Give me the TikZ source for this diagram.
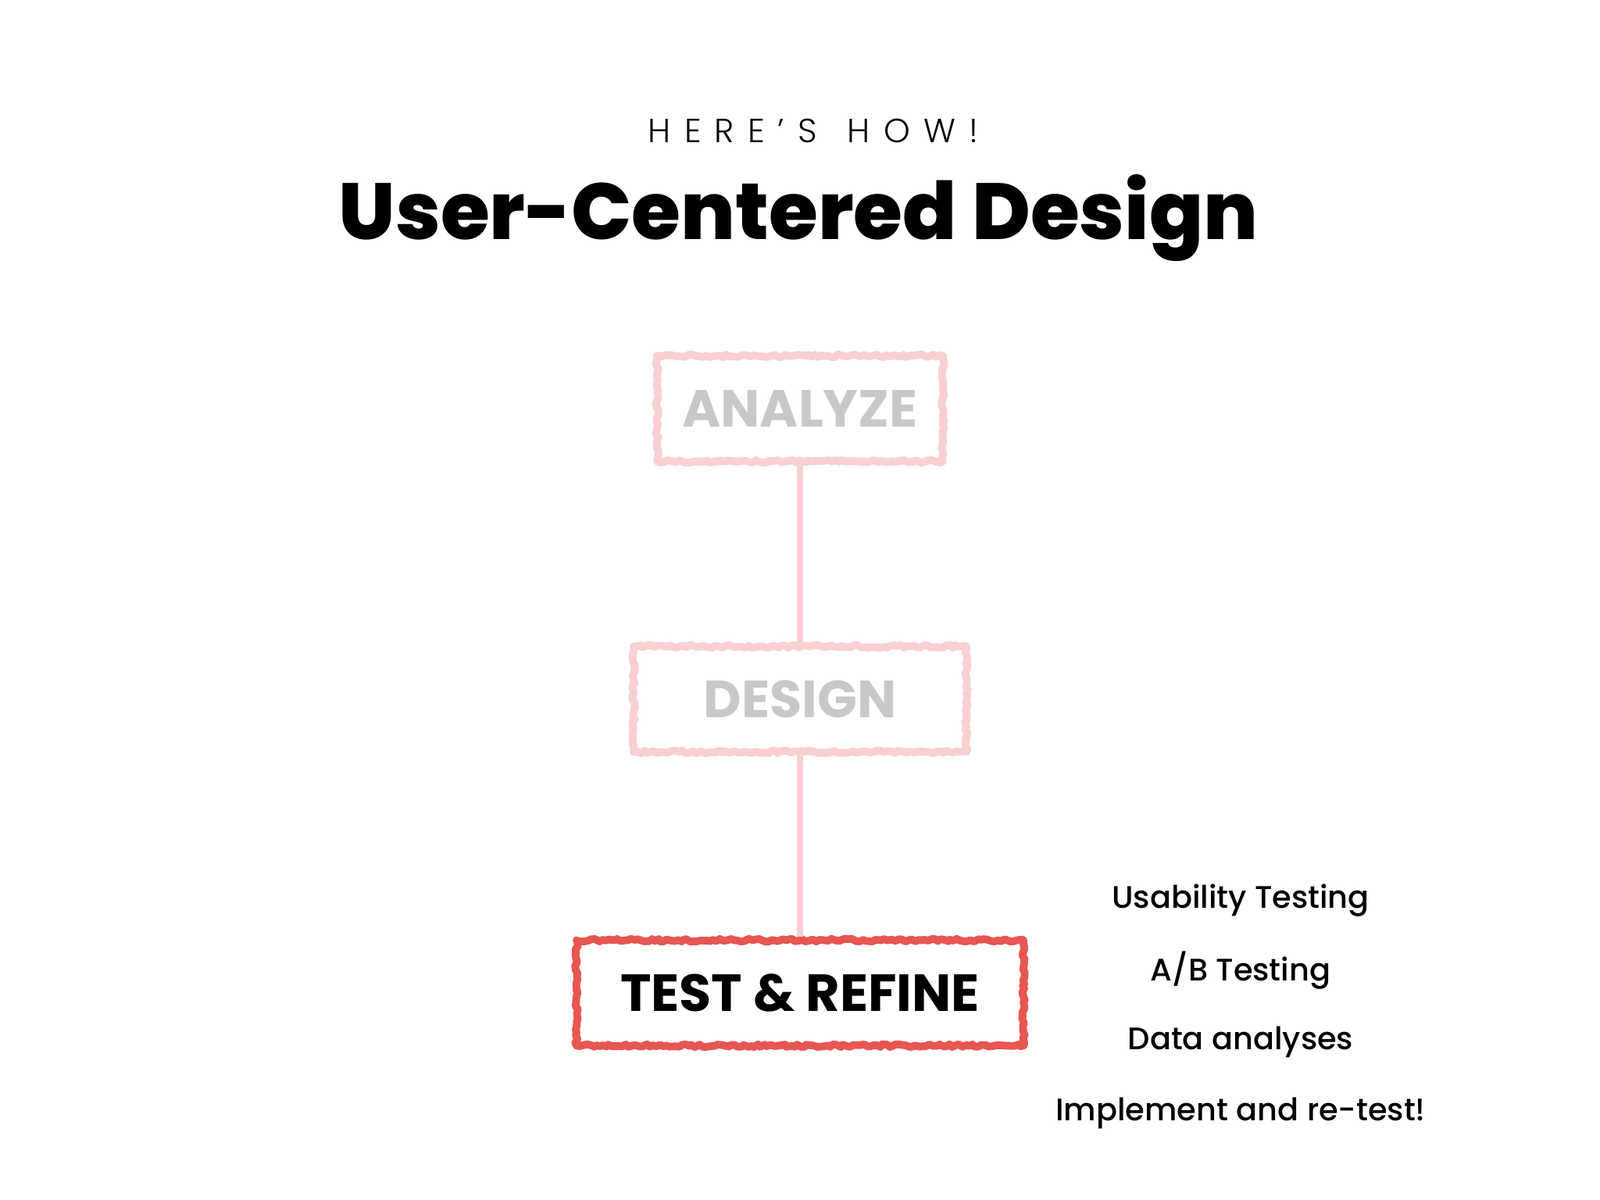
\documentclass[tikz,border=0pt]{standalone}
\usepackage{fontspec}
\setmainfont{Poppins}
\newfontfamily\heavyfont{Poppins ExtraBold}
\newfontfamily\mediumfont{Poppins Medium}
\newfontfamily\lightfont{Poppins Light}
\usetikzlibrary{decorations.pathmorphing}
\definecolor{chalkred}{RGB}{232,86,82}
\definecolor{chalkpink}{RGB}{248,208,208}
\definecolor{fadegray}{RGB}{200,200,200}

\tikzset{
  chalk/.style={decorate, decoration={random steps, segment length=1.2pt, amplitude=0.5pt}, line join=round},
  stage/.style={draw=chalkpink, line width=2.8pt, chalk, inner sep=0pt,
    minimum height=1.35cm, text=fadegray, font=\fontsize{19}{22}\selectfont\bfseries},
  current/.style={stage, draw=chalkred, text=black},
  link/.style={draw=chalkpink, line width=2.2pt},
  item/.style={font=\mediumfont\fontsize{11.35}{14}\selectfont, text=black}
}

\begin{document}
\begin{tikzpicture}
\useasboundingbox[fill=white] (0,0) rectangle (20.48,-15.36);

\node (kicker) at (10.41,-1.67) {\lightfont\fontsize{12.2}{14}\selectfont\addfontfeature{LetterSpace=40}HERE’S\hspace{0.1cm} HOW!};
\node (title) at (10.22,-2.79) {\heavyfont\fontsize{29}{35}\selectfont User-Centered Design};

% the three stages
\node[stage, minimum width=3.66cm] (analyze) at (10.24,-5.23) {ANALYZE};
\node[stage, minimum width=4.26cm] (design) at (10.24,-8.95) {DESIGN};
\node[current, minimum width=5.72cm] (test) at (10.24,-12.71) {TEST \& REFINE};

\draw[link] (analyze) -- (design);
\draw[link] (design) -- (test);

% what testing means
\node[item] (usability) at (15.88,-11.53) {Usability Testing};
\node[item] (ab) at (15.88,-12.42) {A/B Testing};
\node[item] (data) at (15.88,-13.34) {Data analyses};
\node[item] (retest) at (15.88,-14.25) {Implement and re-test!};
\end{tikzpicture}
\end{document}
